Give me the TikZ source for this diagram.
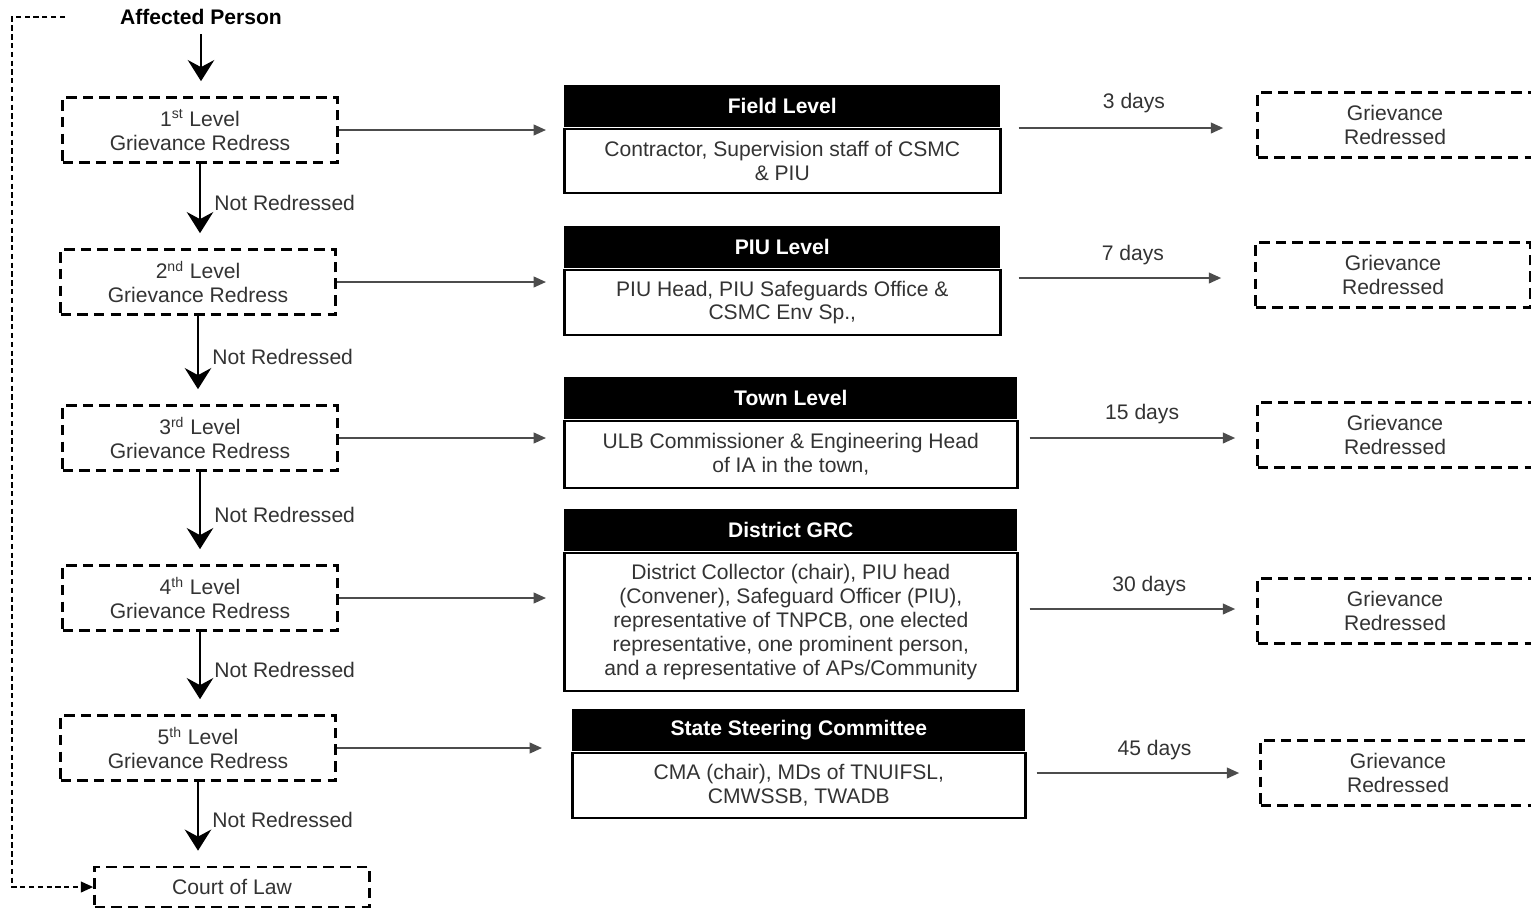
\documentclass[tikz,border=0pt]{standalone}
\usepackage{fontspec}
\setmainfont{Liberation Sans}
\usetikzlibrary{arrows.meta,positioning}
\newcommand{\gfont}{\fontsize{12}{13.6}\selectfont}
\tikzset{
  grv/.style  = {draw, dash pattern=on 6pt off 3.5pt, line width=1.5pt, minimum width=5.5cm,
                 minimum height=1.3cm, align=center, font=\gfont, text=black!80},
  head/.style = {fill=black, text=white, font=\gfont\bfseries, minimum height=0.84cm,
                 inner sep=0pt, anchor=north west},
  body/.style = {draw, line width=1.5pt, align=center, font=\gfont, text=black!80,
                 inner sep=0pt, anchor=north},
  down/.style = {line width=1.7pt, -{Stealth[length=12pt,width=15pt,inset=4pt]}},
  side/.style = {draw=black!70, line width=1.2pt, -{Triangle[length=7pt,width=6pt]}},
  lbl/.style  = {font=\gfont, text=black!80}
}

\begin{document}
\begin{tikzpicture}[x=0.02cm,y=-0.02cm]
\useasboundingbox (0,0) rectangle (1531,910);

% left column
\node[font=\gfont\bfseries] (ap) at (201,17) {Affected Person};
\node[grv] (l1) at (200,130) {1\textsuperscript{st} Level\\Grievance Redress};
\node[grv] (l2) at (198,282) {2\textsuperscript{nd} Level\\Grievance Redress};
\node[grv] (l3) at (200,438) {3\textsuperscript{rd} Level\\Grievance Redress};
\node[grv] (l4) at (200,598) {4\textsuperscript{th} Level\\Grievance Redress};
\node[grv] (l5) at (198,748) {5\textsuperscript{th} Level\\Grievance Redress};
\node[grv, minimum height=0.8cm] (court) at (232,887) {Court of Law};
\coordinate (loop) at (65,17);

% committees
\node[head, minimum width=8.72cm] (fh) at (564,85) {Field Level};
\node[body, minimum width=8.72cm, minimum height=1.28cm] (fb) at (fh.south)
  {Contractor, Supervision staff of CSMC\\\& PIU};
\node[head, minimum width=8.72cm] (ph) at (564,226) {PIU Level};
\node[body, minimum width=8.72cm, minimum height=1.3cm] (pb) at (ph.south)
  {PIU Head, PIU Safeguards Office \&\\CSMC Env Sp.,};
\node[head, minimum width=9.06cm] (th) at (564,377) {Town Level};
\node[body, minimum width=9.06cm, minimum height=1.34cm] (tb) at (th.south)
  {ULB Commissioner \& Engineering Head\\of IA in the town,};
\node[head, minimum width=9.06cm] (dh) at (564,509) {District GRC};
\node[body, minimum width=9.06cm, minimum height=2.76cm] (db) at (dh.south)
  {District Collector (chair), PIU head\\(Convener), Safeguard Officer (PIU),\\representative of TNPCB, one elected\\representative, one prominent person,\\and a representative of APs/Community};
\node[head, minimum width=9.06cm] (sh) at (572,709) {State Steering Committee};
\node[body, minimum width=9.06cm, minimum height=1.3cm] (sb) at (sh.south)
  {CMA (chair), MDs of TNUIFSL,\\CMWSSB, TWADB};

% outcomes
\node[grv] (r1) at (1395,125) {Grievance\\Redressed};
\node[grv] (r2) at (1393,275) {Grievance\\Redressed};
\node[grv] (r3) at (1395,435) {Grievance\\Redressed};
\node[grv] (r4) at (1395,611) {Grievance\\Redressed};
\node[grv] (r5) at (1398,773) {Grievance\\Redressed};

% escalation
\draw[down, shorten <=2pt, shorten >=0.3cm] (ap.south) -- (ap.south |- l1.north);
\draw[down, shorten >=0.3cm] (l1.south) -- (l1.south |- l2.north) node[lbl, midway, right=4pt, yshift=2pt] {Not Redressed};
\draw[down, shorten >=0.3cm] (l2.south) -- (l2.south |- l3.north) node[lbl, midway, right=4pt, yshift=2pt] {Not Redressed};
\draw[down, shorten >=0.3cm] (l3.south) -- (l3.south |- l4.north) node[lbl, midway, right=4pt, yshift=2pt] {Not Redressed};
\draw[down, shorten >=0.3cm] (l4.south) -- (l4.south |- l5.north) node[lbl, midway, right=4pt, yshift=2pt] {Not Redressed};
\draw[down, shorten >=0.3cm] (l5.south) -- (l5.south |- court.north) node[lbl, midway, right=4pt, yshift=2pt] {Not Redressed};
\draw[densely dashed, line width=1.2pt, -{Triangle[length=7pt,width=6pt]}]
  (loop) -- ++(-53,0) |- (court.west);

% to committees
\draw[side, shorten >=0.34cm] (l1.east) -- (l1.east -| fb.west);
\draw[side, shorten >=0.34cm] (l2.east) -- (l2.east -| pb.west);
\draw[side, shorten >=0.34cm] (l3.east) -- (l3.east -| tb.west);
\draw[side, shorten >=0.34cm] (l4.east) -- (l4.east -| db.west);
\draw[side, shorten >=0.58cm] (l5.east) -- (l5.east -| sb.west);

% to outcomes
\draw[side, shorten <=0.34cm, shorten >=0.66cm] (fb.east |- 0,128) -- (r1.west |- 0,128)
  node[lbl, pos=0.52, above=0.17cm] {3 days};
\draw[side, shorten <=0.34cm, shorten >=0.66cm] (pb.east |- 0,278) -- (r2.west |- 0,278)
  node[lbl, pos=0.52, above=0.12cm] {7 days};
\draw[side, shorten <=0.22cm, shorten >=0.42cm] (tb.east |- 0,438) -- (r3.west |- 0,438)
  node[lbl, pos=0.52, above=0.15cm] {15 days};
\draw[side, shorten <=0.22cm, shorten >=0.42cm] (db.east |- 0,609) -- (r4.west |- 0,609)
  node[lbl, pos=0.55, above=0.12cm] {30 days};
\draw[side, shorten <=0.2cm, shorten >=0.4cm] (sb.east |- 0,773) -- (r5.west |- 0,773)
  node[lbl, pos=0.55, above=0.12cm] {45 days};
\end{tikzpicture}
\end{document}
